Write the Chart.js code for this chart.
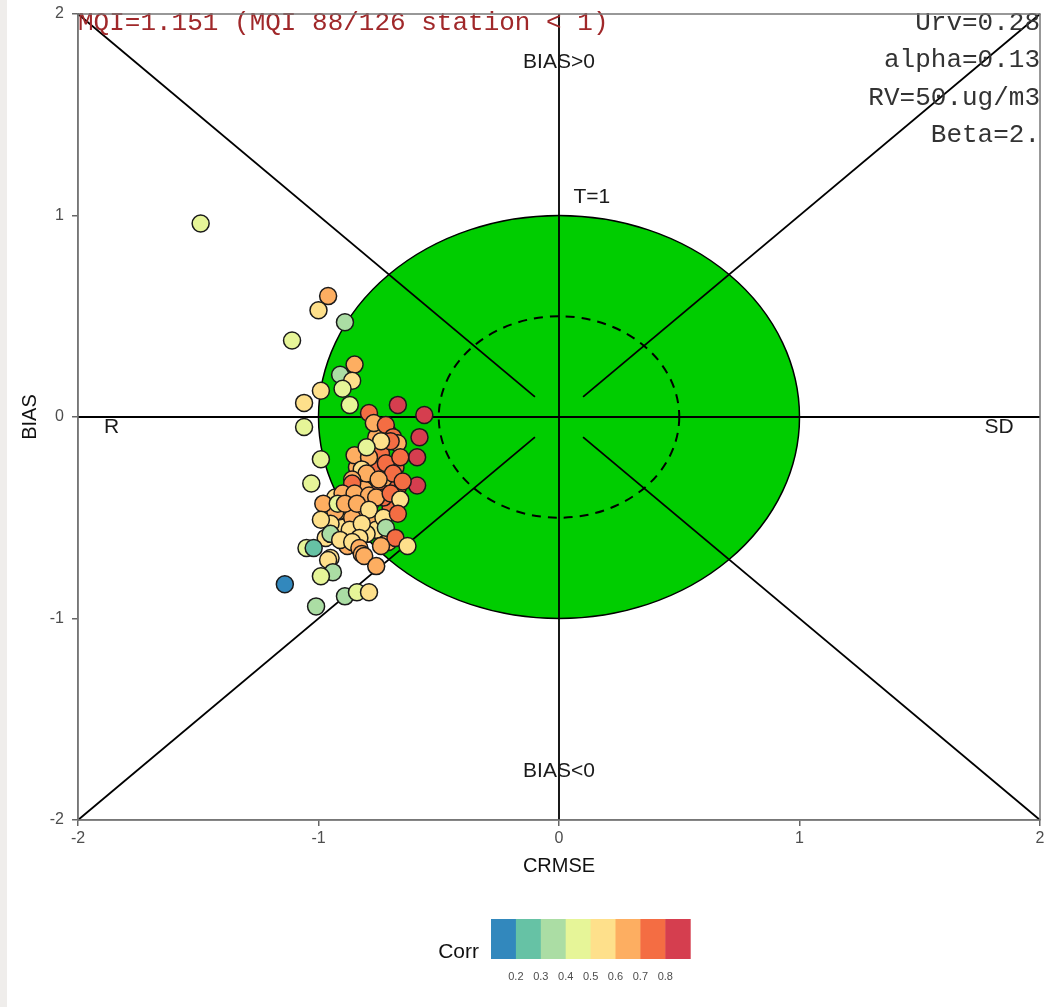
<!DOCTYPE html>
<html>
<head>
<meta charset="utf-8">
<script src="https://cdn.jsdelivr.net/npm/chart.js@4/dist/chart.umd.min.js"></script>
<style>
html, body { margin: 0; padding: 0; overflow: hidden; }
body { background: linear-gradient(to right, #efedeb 0, #efedeb 7px, #fff 7px); }
#wrap { width: 1046px; height: 1007px; overflow: hidden; }
</style>
</head>
<body>
<div id="wrap"><canvas id="chartMqi" width="1050" height="1007"></canvas></div>
<script>
// station values (hidden ones in the dense cluster first)
const crmse = [
  -0.75,-0.72,-0.78,-0.70,-0.74,-0.77,-0.68,-0.82,-0.88,-0.93,
  -0.78,-0.76,-0.71,-0.81,-0.73,-0.84,-0.90,-0.86,-0.80,-0.67,
  -0.71,-0.76,-0.93,-0.97,-0.88,
  -1.49,-0.96,-1.00,-0.89,-1.11,-0.85,-0.91,-0.86,-0.90,-0.99,
  -1.06,-0.87,-1.06,-0.67,-0.56,-0.79,-0.77,-0.72,-0.69,-0.58,
  -0.67,-0.70,-0.59,-0.85,-0.79,-0.72,-0.66,-0.82,-0.80,-0.69,
  -0.59,-0.65,-0.86,-0.75,-0.86,-0.99,-1.03,-0.90,-0.85,-0.79,
  -0.76,-0.70,-0.66,-0.98,-0.92,-0.89,-0.84,-0.79,-0.73,-0.67,
  -0.95,-0.99,-0.87,-0.82,-0.72,-0.95,-0.91,-0.83,-0.86,-0.68,
  -0.63,-0.74,-0.83,-0.82,-0.81,-0.95,-0.96,-1.05,-1.02,-0.76,
  -0.94,-0.99,-1.14,-0.89,-0.84,-0.79,-1.01,-0.74,-0.80
];
const bias = [
  -0.35,-0.30,-0.42,-0.45,-0.18,-0.26,-0.25,-0.47,-0.47,-0.47,
  -0.51,-0.56,-0.62,-0.36,-0.40,-0.25,-0.55,-0.50,-0.58,-0.35,
  -0.08,-0.10,-0.40,-0.60,-0.64,
  0.96,0.60,0.53,0.47,0.38,0.26,0.21,0.18,0.14,0.13,
  0.07,0.06,-0.05,0.06,0.01,0.02,-0.03,-0.04,-0.10,-0.10,
  -0.13,-0.12,-0.20,-0.19,-0.20,-0.23,-0.20,-0.26,-0.28,-0.28,
  -0.34,-0.32,-0.31,-0.31,-0.33,-0.21,-0.33,-0.38,-0.38,-0.39,
  -0.40,-0.38,-0.41,-0.43,-0.43,-0.43,-0.43,-0.46,-0.50,-0.48,
  -0.53,-0.51,-0.56,-0.53,-0.55,-0.58,-0.61,-0.60,-0.62,-0.60,
  -0.64,-0.64,-0.65,-0.68,-0.69,-0.70,-0.71,-0.65,-0.65,-0.74,
  -0.77,-0.79,-0.83,-0.89,-0.87,-0.87,-0.94,-0.12,-0.15
];
const corr = [
  0.75,0.65,0.55,0.75,0.75,0.75,0.75,0.65,0.55,0.65,
  0.65,0.55,0.65,0.65,0.75,0.65,0.55,0.65,0.55,0.75,
  0.75,0.65,0.55,0.55,0.65,
  0.45,0.65,0.55,0.35,0.45,0.65,0.35,0.55,0.45,0.55,
  0.55,0.45,0.45,0.85,0.85,0.75,0.65,0.75,0.75,0.85,
  0.65,0.75,0.85,0.65,0.65,0.75,0.75,0.55,0.65,0.75,
  0.85,0.75,0.65,0.65,0.75,0.45,0.45,0.65,0.65,0.65,
  0.65,0.75,0.55,0.65,0.45,0.65,0.65,0.55,0.55,0.75,
  0.55,0.55,0.55,0.55,0.35,0.35,0.55,0.55,0.55,0.75,
  0.55,0.65,0.65,0.65,0.65,0.55,0.55,0.45,0.25,0.65,
  0.35,0.45,0.15,0.35,0.45,0.55,0.35,0.55,0.45
];

const corrBreaks = [0.2, 0.3, 0.4, 0.5, 0.6, 0.7, 0.8];
const corrColors = ["#3288bd","#66c2a5","#abdda4","#e6f598","#fee08b","#fdae61","#f46d43","#d53e4f"];
const axisTicks = [-2, -1, 0, 1, 2];

const mqiTitle = "MQI=1.151 (MQI 88/126 station < 1)";
const paramLines = ["Urv=0.28", "alpha=0.13", "RV=50.ug/m3", "Beta=2."];

function corColor(v) {
    let k = corrBreaks.filter(b => v >= b).length;
    return corrColors[k];
}

// target diagram background: green circle, dashed circle, axes lines, labels
const diagrama = {
    id: "diagrama",
    beforeDatasetsDraw(chart) {
        const ctx = chart.ctx;
        const sx = chart.scales.x, sy = chart.scales.y;
        const px = v => sx.getPixelForValue(v);
        const py = v => sy.getPixelForValue(v);
        const cx = px(0), cy = py(0);

        ctx.save();
        // T=1 circle
        ctx.beginPath();
        ctx.ellipse(cx, cy, px(1) - cx, cy - py(1), 0, 0, Math.PI * 2);
        ctx.fillStyle = "#00cd00";
        ctx.fill();
        ctx.lineWidth = 1.5;
        ctx.strokeStyle = "#000";
        ctx.stroke();

        // dashed circle 0.5
        ctx.beginPath();
        ctx.ellipse(cx, cy, px(0.5) - cx, cy - py(0.5), 0, 0, Math.PI * 2);
        ctx.setLineDash([9, 7]);
        ctx.lineWidth = 2;
        ctx.stroke();
        ctx.setLineDash([]);

        // cross lines and diagonals
        ctx.lineWidth = 1.8;
        const seg = (x1, y1, x2, y2) => {
            ctx.beginPath();
            ctx.moveTo(px(x1), py(y1));
            ctx.lineTo(px(x2), py(y2));
            ctx.stroke();
        };
        seg(-2, 0, 2, 0);
        seg(0, -2, 0, 2);
        seg(-2, 2, -0.1, 0.1);
        seg(2, 2, 0.1, 0.1);
        seg(-2, -2, -0.1, -0.1);
        seg(2, -2, 0.1, -0.1);

        // labels
        ctx.fillStyle = "#1a1a1a";
        ctx.font = "21px 'Liberation Sans', Arial, sans-serif";
        ctx.textBaseline = "middle";
        ctx.textAlign = "center";
        ctx.fillText("BIAS>0", px(0), py(1.76));
        ctx.fillText("BIAS<0", px(0), py(-1.76));
        ctx.fillText("R", px(-1.86), py(-0.05));
        ctx.fillText("SD", px(1.83), py(-0.05));
        ctx.textAlign = "left";
        ctx.fillText("T=1", px(0.06), py(1.09));

        // texts in monospace
        ctx.font = "26px 'Liberation Mono', 'DejaVu Sans Mono', monospace";
        ctx.textAlign = "left";
        ctx.fillStyle = "#a0282a";
        ctx.fillText(mqiTitle, chart.chartArea.left, chart.chartArea.top + 9);
        ctx.textAlign = "right";
        ctx.fillStyle = "#333";
        for (let i = 0; i < paramLines.length; i++) {
            ctx.fillText(paramLines[i], chart.chartArea.right, chart.chartArea.top + 9 + i * 37.5);
        }
        ctx.restore();
    },
    afterDraw(chart) {
        const ctx = chart.ctx;
        const a = chart.chartArea;
        ctx.save();
        ctx.strokeStyle = "#777";
        ctx.lineWidth = 1.5;
        ctx.strokeRect(a.left, a.top, a.right - a.left, a.bottom - a.top);

        // colour bar legend
        const x0 = 491, y0 = 919, w = 24.9, h = 40;
        for (let i = 0; i < corrColors.length; i++) {
            ctx.fillStyle = corrColors[i];
            ctx.fillRect(x0 + i * w, y0, w + 0.5, h);
        }
        ctx.fillStyle = "#4d4d4d";
        ctx.font = "11px 'Liberation Sans', Arial, sans-serif";
        ctx.textAlign = "center";
        ctx.textBaseline = "middle";
        for (let i = 0; i < corrBreaks.length; i++) {
            ctx.fillText(corrBreaks[i].toFixed(1), x0 + (i + 1) * w, 977);
        }
        ctx.fillStyle = "#111";
        ctx.font = "21px 'Liberation Sans', Arial, sans-serif";
        ctx.textAlign = "right";
        ctx.fillText("Corr", 479, 952);
        ctx.restore();
    }
};

const tickFont = { family: "'Liberation Sans', Arial, sans-serif", size: 16 };
const titleFont = { family: "'Liberation Sans', Arial, sans-serif", size: 20 };

const ctx1 = document.getElementById("chartMqi");
const chartMqi = new Chart(ctx1, {
    type: "scatter",
    data: {
        datasets: [{
            label: "stations",
            data: crmse.map((x, i) => ({ x: x, y: bias[i] })),
            backgroundColor: corr.map(corColor),
            borderColor: "#1a1a1a",
            borderWidth: 1.5,
            pointRadius: 8.5,
            pointHoverRadius: 8.5
        }]
    },
    options: {
        responsive: false,
        animation: false,
        layout: { padding: { left: 0, top: 14, right: 2, bottom: 117 } },
        plugins: {
            legend: { display: false },
            tooltip: { enabled: false }
        },
        scales: {
            x: {
                min: -2, max: 2,
                afterBuildTicks: s => { s.ticks = axisTicks.map(v => ({ value: v })); },
                afterFit: s => { s.height = 70; s.paddingLeft = 0; s.paddingRight = 0; },
                ticks: { color: "#4d4d4d", font: tickFont, padding: 3, maxRotation: 0 },
                grid: { drawOnChartArea: false, tickLength: 6, color: "#666", lineWidth: 1.5 },
                border: { display: true, color: "#777", width: 1.5 },
                title: { display: true, text: "CRMSE", color: "#111", font: titleFont, padding: { top: 0, bottom: 12 } }
            },
            y: {
                min: -2, max: 2,
                afterBuildTicks: s => { s.ticks = axisTicks.map(v => ({ value: v })); },
                afterFit: s => { s.width = 78; s.paddingTop = 0; s.paddingBottom = 0; },
                ticks: { color: "#4d4d4d", font: tickFont, padding: 8 },
                grid: { drawOnChartArea: false, tickLength: 6, color: "#666", lineWidth: 1.5 },
                border: { display: true, color: "#777", width: 1.5 },
                title: { display: true, text: "BIAS", color: "#111", font: titleFont, padding: { top: 18, bottom: 0 } }
            }
        }
    },
    plugins: [diagrama]
});
</script>
</body>
</html>
